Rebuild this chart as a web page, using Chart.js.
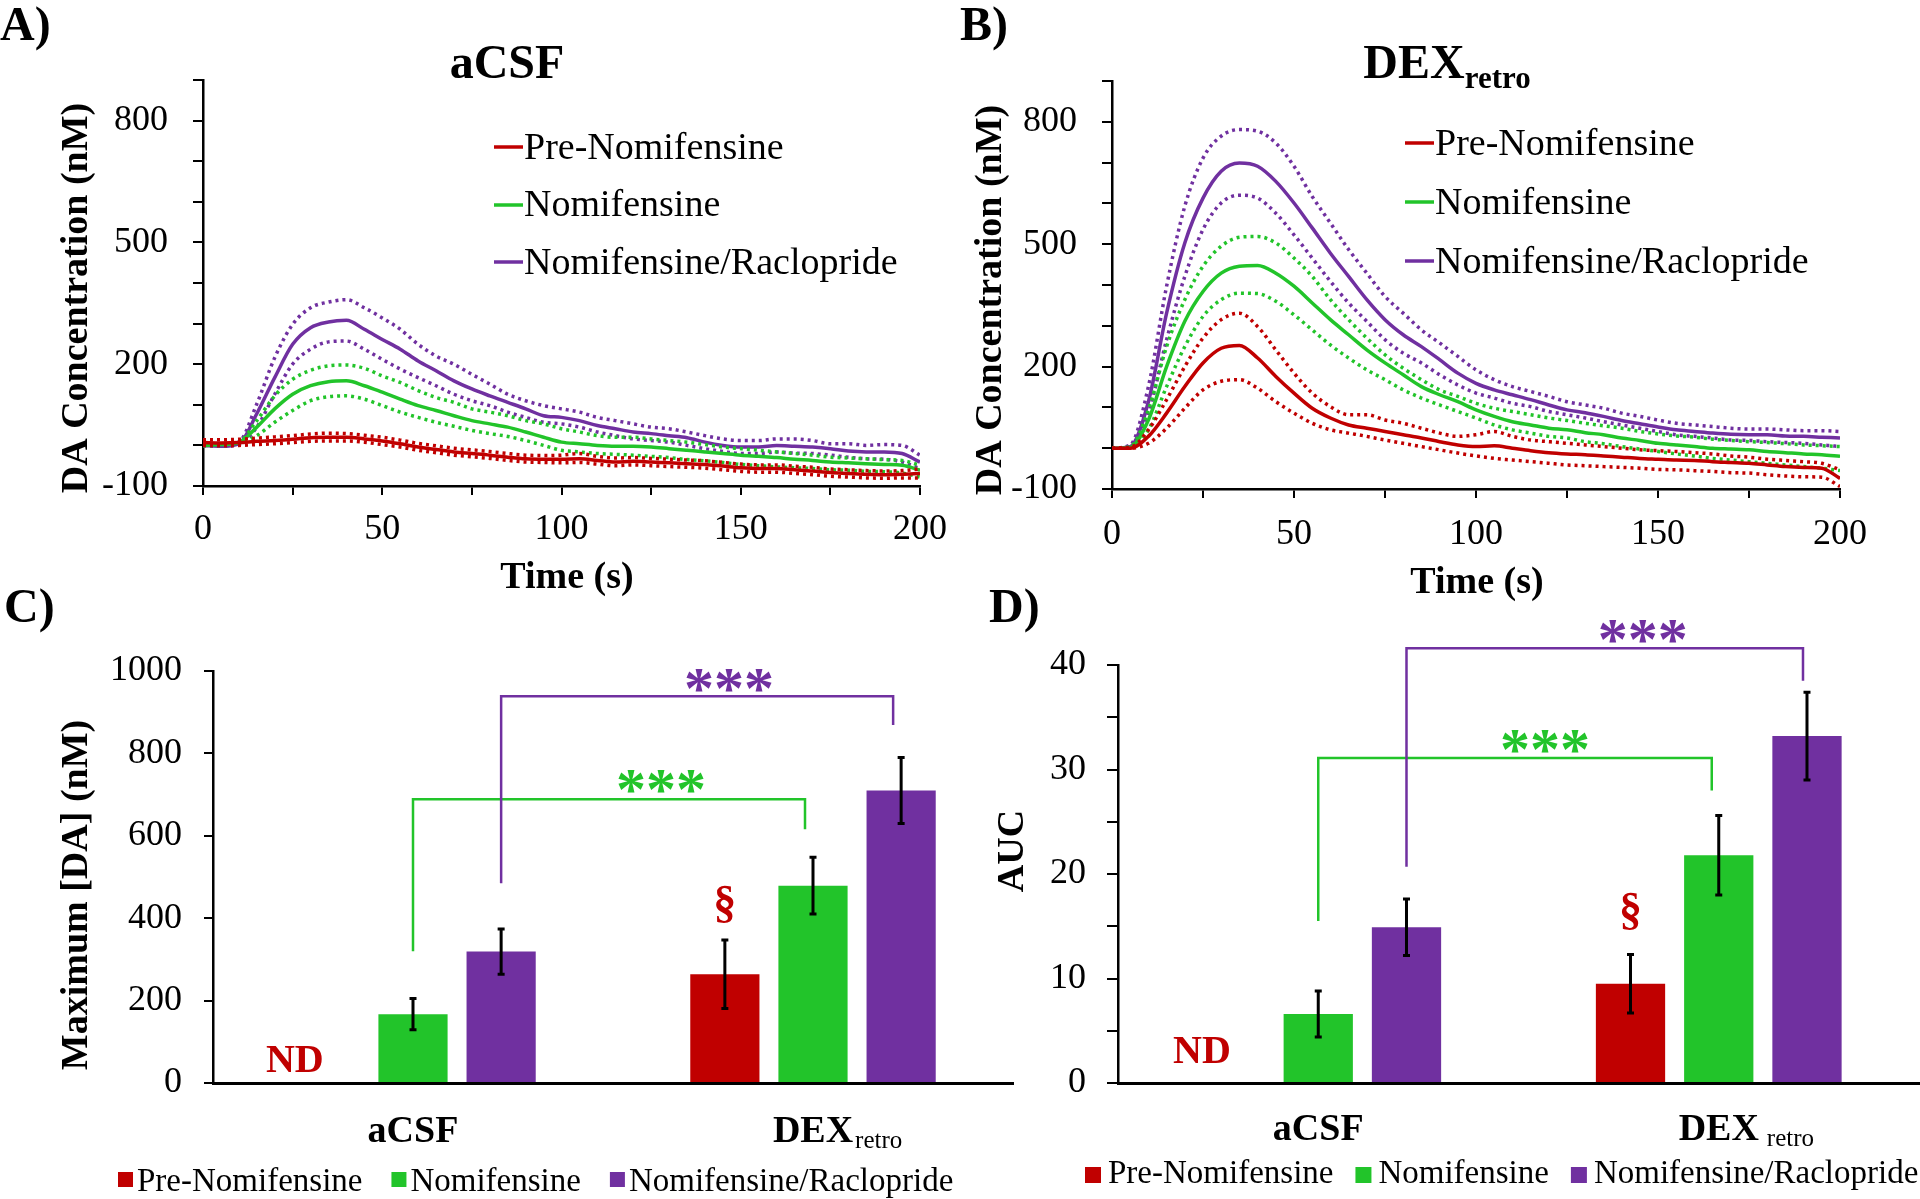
<!DOCTYPE html>
<html>
<head>
<meta charset="utf-8">
<script src="https://cdn.jsdelivr.net/npm/chart.js@4.4.1/dist/chart.umd.min.js"></script>
<style>
html, body { margin: 0; padding: 0; background: #fff; }
#wrap { position: relative; width: 1920px; height: 1199px; overflow: hidden; background: #fff; }
canvas { position: absolute; }
</style>
</head>
<body>
<div id="wrap">
  <canvas id="chartA" width="960" height="600" style="left:0;top:0;width:960px;height:600px"></canvas>
  <canvas id="chartB" width="960" height="610" style="left:960px;top:0;width:960px;height:610px"></canvas>
  <canvas id="chartC" width="1030" height="639" style="left:0;top:560px;width:1030px;height:639px"></canvas>
  <canvas id="chartD" width="960" height="639" style="left:960px;top:560px;width:960px;height:639px"></canvas>
</div>
<script>
const FONT = '"Liberation Serif", "Times New Roman", Times, serif';
const RED = '#C00000', GREEN = '#22C42A', PURPLE = '#7030A0';

const seriesNames = ['Pre-Nomifensine', 'Nomifensine', 'Nomifensine/Raclopride'];

// time axis (s)
const timeSec = [0, 5, 10, 15, 20, 25, 30, 35, 40, 45, 50, 55, 60, 65, 70, 75, 80, 85, 90, 95,
  100, 105, 110, 115, 120, 125, 130, 135, 140, 145, 150, 155, 160, 165, 170, 175, 180, 185, 190, 195, 200];
const lineXLabels = [0, 50, 100, 150, 200];
const lineYLabels = [-100, 200, 500, 800];

// A) aCSF traces (nM)
const aPreMean = [7, 6, 7, 10, 12, 15, 19, 20, 20, 16, 11, 4, -4, -10, -16, -20, -24, -29, -33, -34,
  -34, -33, -37, -41, -39, -41, -43, -45, -47, -51, -55, -57, -57, -60, -63, -67, -69, -71, -72, -71, -69];
const aPreUpper = [14, 14, 15, 18, 21, 24, 28, 30, 29, 25, 20, 13, 5, -1, -7, -11, -15, -20, -24, -25,
  -24, -20, -27, -31, -30, -32, -34, -36, -38, -42, -46, -48, -48, -51, -54, -58, -60, -62, -63, -62, -58];
const aPreLower = [0, -1, 0, 2, 4, 7, 10, 11, 11, 8, 2, -4, -12, -18, -24, -28, -32, -37, -41, -42,
  -43, -42, -46, -50, -48, -50, -52, -54, -56, -60, -64, -66, -66, -69, -72, -76, -78, -80, -81, -80, -80];
const aNomMean = [0, 2, 7, 45, 90, 126, 147, 157, 159, 147, 131, 114, 98, 86, 73, 61, 53, 45, 33, 20,
  8, 4, 0, -2, -2, -4, -8, -12, -16, -20, -24, -27, -30, -34, -37, -41, -43, -45, -47, -49, -61];
const aNomUpper = [0, 2, 8, 61, 122, 163, 185, 196, 198, 190, 171, 155, 135, 118, 106, 90, 82, 73, 61, 53,
  41, 33, 24, 20, 20, 16, 12, 8, 2, -4, -8, -12, -16, -20, -24, -29, -31, -33, -35, -37, -49];
const aNomLower = [0, 0, 4, 24, 57, 86, 110, 120, 122, 114, 98, 82, 69, 57, 47, 37, 29, 22, 12, 0,
  -12, -16, -20, -22, -24, -27, -30, -35, -38, -42, -47, -50, -53, -55, -57, -60, -61, -64, -65, -68, -78];
const aRacMean = [0, -2, 4, 78, 167, 249, 290, 304, 308, 286, 261, 237, 208, 184, 159, 139, 122, 106, 90, 73,
  69, 61, 49, 41, 33, 29, 24, 19, 8, 0, -4, -4, 0, -2, -4, -8, -14, -16, -16, -20, -41];
const aRacUpper = [0, 0, 8, 102, 216, 298, 339, 353, 359, 339, 314, 286, 249, 220, 200, 175, 151, 126, 110, 98,
  90, 82, 69, 61, 53, 45, 41, 33, 24, 16, 12, 12, 16, 16, 12, 4, 4, 0, 2, 0, -24];
const aRacLower = [0, -2, 2, 45, 126, 200, 237, 255, 257, 237, 212, 188, 167, 147, 126, 110, 98, 82, 69, 57,
  53, 45, 33, 24, 16, 12, 8, 0, -8, -15, -20, -20, -16, -19, -20, -24, -29, -33, -34, -41, -57];

// B) DEXretro traces (nM)
const bPreMean = [0, 0, 29, 86, 151, 209, 245, 252, 221, 176, 135, 98, 74, 57, 49, 41, 33, 25, 16, 8,
  4, 6, 0, -6, -11, -14, -16, -19, -22, -25, -27, -29, -30, -33, -35, -37, -41, -45, -47, -49, -74];
const bPreUpper = [0, 2, 45, 119, 200, 270, 315, 331, 298, 241, 184, 135, 102, 82, 82, 69, 61, 49, 37, 29,
  33, 41, 29, 20, 16, 12, 8, 4, 0, -4, -6, -8, -11, -14, -19, -22, -27, -30, -33, -37, -53];
const bPreLower = [0, 0, 12, 49, 98, 143, 164, 168, 147, 114, 86, 61, 45, 37, 29, 20, 12, 4, -4, -12,
  -19, -25, -29, -33, -37, -41, -43, -45, -47, -49, -52, -53, -55, -57, -60, -61, -65, -68, -70, -71, -94];
const bNomMean = [0, 2, 69, 200, 311, 384, 429, 446, 448, 429, 397, 356, 315, 278, 241, 209, 180, 151, 131, 114,
  94, 78, 65, 57, 49, 45, 38, 33, 25, 19, 12, 8, 4, 0, -2, -4, -8, -11, -14, -16, -20];
const bNomUpper = [0, 4, 94, 249, 364, 446, 495, 517, 519, 503, 466, 421, 364, 315, 270, 229, 196, 168, 143, 127,
  110, 98, 90, 82, 74, 68, 61, 55, 49, 41, 35, 30, 27, 22, 19, 16, 14, 11, 8, 6, 4];
const bNomLower = [0, 0, 45, 151, 249, 323, 364, 380, 379, 360, 327, 290, 253, 221, 192, 168, 143, 123, 106, 90,
  74, 57, 45, 37, 29, 25, 16, 11, 4, -2, -8, -14, -19, -25, -29, -33, -37, -41, -45, -49, -55];
const bRacMean = [0, 4, 114, 331, 503, 613, 679, 699, 691, 654, 601, 540, 478, 421, 364, 315, 278, 249, 217, 184,
  159, 143, 131, 119, 106, 94, 87, 78, 68, 60, 52, 45, 41, 37, 34, 33, 33, 30, 29, 27, 25];
const bRacUpper = [0, 8, 151, 397, 593, 711, 765, 781, 777, 748, 691, 617, 552, 487, 429, 372, 331, 290, 258, 225,
  192, 168, 151, 139, 127, 114, 106, 98, 86, 78, 69, 61, 57, 53, 49, 47, 47, 45, 43, 43, 41];
const bRacLower = [0, 2, 86, 266, 421, 536, 601, 620, 613, 576, 523, 466, 409, 356, 311, 266, 233, 209, 180, 155,
  135, 123, 110, 102, 90, 82, 74, 65, 57, 49, 41, 33, 29, 25, 20, 19, 16, 14, 12, 8, 4];

// C) maximum [DA] (nM), D) AUC
const groupLabels = ['aCSF', 'DEX'];
const maxPre = [null, 264], maxNom = [167, 479], maxRac = [319, 710];
const maxPreErr = [0, 83], maxNomErr = [38, 69], maxRacErr = [55, 80];
const aucPre = [null, 9.5], aucNom = [6.6, 21.8], aucRac = [14.9, 33.2];
const aucPreErr = [0, 2.8], aucNomErr = [2.2, 3.8], aucRacErr = [2.7, 4.2];
const maxYLabels = [0, 200, 400, 600, 800, 1000];
const aucYLabels = [0, 10, 20, 30, 40];

// significance brackets: [top, left foot, right foot, stars x (category units), stars y]
const maxSigNom = [689, 320, 616, 0.62, 733];
const maxSigRac = [939, 485, 869, 0.79, 978];
const aucSigNom = [31.1, 15.5, 28.0, 0.566, 32.7];
const aucSigRac = [41.6, 20.7, 38.5, 0.81, 43.2];

Chart.defaults.font.family = FONT;
Chart.defaults.color = '#000';

function text(ctx, s, x, y, font, color, align, baseline) {
  ctx.font = font;
  ctx.fillStyle = color || '#000';
  ctx.textAlign = align || 'left';
  ctx.textBaseline = baseline || 'alphabetic';
  ctx.fillText(s, x, y);
}

function vText(ctx, s, cx, cy, font) {
  ctx.save();
  ctx.translate(cx, cy);
  ctx.rotate(-Math.PI / 2);
  text(ctx, s, 0, 0, font, '#000', 'center', 'middle');
  ctx.restore();
}

// main text with a subscript, centred (or left aligned) on x
function subText(ctx, main, sub, x, base, mainFont, subFont, subDrop, gap, centred) {
  ctx.font = mainFont;
  const wm = ctx.measureText(main).width;
  ctx.font = subFont;
  const ws = ctx.measureText(sub).width;
  const x0 = centred ? x - (wm + gap + ws) / 2 : x;
  text(ctx, main, x0, base, mainFont);
  text(ctx, sub, x0 + wm + gap, base + subDrop, subFont);
}

function pts(vals) {
  return timeSec.map((t, i) => ({x: t, y: vals[i]}));
}

function band(color, mean, upper, lower) {
  const dotted = v => ({data: pts(v), borderColor: color, borderWidth: 3.5, borderDash: [3, 4],
    pointRadius: 0, cubicInterpolationMode: 'monotone'});
  return [dotted(upper), dotted(lower),
    {data: pts(mean), borderColor: color, borderWidth: 3.5, pointRadius: 0, cubicInterpolationMode: 'monotone'}];
}

function lineScales(yWidth, xHeight, xPad) {
  return {
    x: {
      type: 'linear', min: 0, max: 200,
      afterFit: s => { s.height = xHeight; },
      ticks: {stepSize: 25, autoSkip: false, maxRotation: 0, padding: xPad, color: '#000', font: {size: 36},
        callback: v => lineXLabels.includes(v) ? v : ''},
      grid: {drawOnChartArea: false, drawTicks: true, tickLength: 9, color: '#000', lineWidth: 2},
      border: {color: '#000', width: 2.5}
    },
    y: {
      type: 'linear', min: -100, max: 900,
      afterFit: s => { s.width = yWidth; },
      ticks: {stepSize: 100, autoSkip: false, padding: 25, color: '#000', font: {size: 36},
        callback: v => lineYLabels.includes(v) ? v : ''},
      grid: {drawOnChartArea: false, drawTicks: true, tickLength: 10, color: '#000', lineWidth: 2},
      border: {color: '#000', width: 2.5}
    }
  };
}

function linePlugin(cfg) {
  return {
    id: 'lineText',
    afterDraw(chart) {
      const ctx = chart.ctx;
      ctx.save();
      text(ctx, cfg.letter, 0, 40, 'bold 48px ' + FONT);
      subText(ctx, cfg.title, cfg.titleSub, cfg.titleX, 78, 'bold 48px ' + FONT, 'bold 31px ' + FONT, 10, 0, true);
      text(ctx, 'Time (s)', cfg.xTitle[0], cfg.xTitle[1], 'bold 38px ' + FONT, '#000', 'center', 'middle');
      vText(ctx, 'DA Concentration (nM)', cfg.yTitle[0], cfg.yTitle[1], 'bold 38px ' + FONT);
      const colors = [RED, GREEN, PURPLE];
      seriesNames.forEach((name, i) => {
        ctx.strokeStyle = colors[i];
        ctx.lineWidth = 3.5;
        ctx.setLineDash([]);
        ctx.beginPath();
        ctx.moveTo(cfg.legX, cfg.legSwatch[i]);
        ctx.lineTo(cfg.legX + 29, cfg.legSwatch[i]);
        ctx.stroke();
        text(ctx, name, cfg.legX + 30, cfg.legBase[i], '38px ' + FONT);
      });
      ctx.restore();
    }
  };
}

function makeLine(id, sets, layoutPad, yWidth, xHeight, xPad, cfg) {
  return new Chart(document.getElementById(id), {
    type: 'line',
    data: {datasets: sets},
    options: {
      responsive: false, animation: false,
      layout: {padding: layoutPad},
      plugins: {legend: {display: false}, tooltip: {enabled: false}},
      scales: lineScales(yWidth, xHeight, xPad)
    },
    plugins: [linePlugin(cfg)]
  });
}

makeLine('chartA',
  [].concat(band(RED, aPreMean, aPreUpper, aPreLower), band(GREEN, aNomMean, aNomUpper, aNomLower),
    band(PURPLE, aRacMean, aRacUpper, aRacLower)),
  {left: 0, right: 29, top: 80, bottom: 0}, 203, 114, 13,
  {letter: 'A)', title: 'aCSF', titleSub: '', titleX: 507, xTitle: [567, 578], yTitle: [77, 298],
    legX: 494, legSwatch: [147, 205, 262], legBase: [159, 216, 274]});

makeLine('chartB',
  [].concat(band(RED, bPreMean, bPreUpper, bPreLower), band(GREEN, bNomMean, bNomUpper, bNomLower),
    band(PURPLE, bRacMean, bRacUpper, bRacLower)),
  {left: 0, right: 80, top: 81, bottom: 0}, 152, 121, 15,
  {letter: 'B)', title: 'DEX', titleSub: 'retro', titleX: 487, xTitle: [517, 583], yTitle: [31, 300],
    legX: 445, legSwatch: [143, 202, 261], legBase: [155, 214, 273]});

function stars(ctx, cx, cy, color) {
  ctx.font = 'bold 60px ' + FONT;
  const m = ctx.measureText('***');
  const base = cy + (m.actualBoundingBoxAscent - m.actualBoundingBoxDescent) / 2;
  text(ctx, '***', cx, base, 'bold 60px ' + FONT, color, 'center');
}

function barPlugin(cfg) {
  return {
    id: 'barText',
    afterDraw(chart) {
      const ctx = chart.ctx;
      const xs = chart.scales.x, ys = chart.scales.y;
      ctx.save();
      // error bars
      cfg.errs.forEach((errs, di) => {
        const meta = chart.getDatasetMeta(di);
        const vals = chart.data.datasets[di].data;
        meta.data.forEach((bar, j) => {
          if (vals[j] == null) return;
          const top = ys.getPixelForValue(vals[j] + errs[j]);
          const bot = ys.getPixelForValue(vals[j] - errs[j]);
          ctx.strokeStyle = '#000';
          ctx.lineWidth = 3;
          ctx.beginPath();
          ctx.moveTo(bar.x, top); ctx.lineTo(bar.x, bot);
          ctx.moveTo(bar.x - 3.5, top); ctx.lineTo(bar.x + 3.5, top);
          ctx.moveTo(bar.x - 3.5, bot); ctx.lineTo(bar.x + 3.5, bot);
          ctx.stroke();
        });
      });
      // brackets and stars
      cfg.sigs.forEach(([sig, di, color]) => {
        const meta = chart.getDatasetMeta(di);
        const xl = meta.data[0].x, xr = meta.data[1].x + cfg.rightShift[di];
        ctx.strokeStyle = color;
        ctx.lineWidth = 2.5;
        ctx.beginPath();
        ctx.moveTo(xl, ys.getPixelForValue(sig[1]));
        ctx.lineTo(xl, ys.getPixelForValue(sig[0]));
        ctx.lineTo(xr, ys.getPixelForValue(sig[0]));
        ctx.lineTo(xr, ys.getPixelForValue(sig[2]));
        ctx.stroke();
        stars(ctx, xs.getPixelForValue(sig[3]), ys.getPixelForValue(sig[4]), color);
      });
      // ND and section mark on the pre-nomifensine series
      const pre = chart.getDatasetMeta(0);
      text(ctx, 'ND', pre.data[0].x + cfg.ndDx, ys.getPixelForValue(cfg.ndY), 'bold 40px ' + FONT, RED, 'center', 'middle');
      text(ctx, '§', pre.data[1].x, ys.getPixelForValue(cfg.secY), 'bold 46px ' + FONT, RED, 'center', 'middle');
      // category labels
      text(ctx, groupLabels[0], xs.getPixelForValue(0), cfg.catBase, 'bold 38px ' + FONT, '#000', 'center');
      ctx.font = 'bold 38px ' + FONT;
      const wDex = ctx.measureText(groupLabels[1]).width;
      const xDex = xs.getPixelForValue(1) - wDex / 2;
      text(ctx, groupLabels[1], xDex, cfg.catBase, 'bold 38px ' + FONT);
      text(ctx, 'retro', xDex + wDex + cfg.subGap, cfg.catBase + 6, '25px ' + FONT);
      // panel letter and y title
      text(ctx, cfg.letter, cfg.letterX, 62, 'bold 48px ' + FONT);
      vText(ctx, cfg.yTitle, cfg.yTitlePos[0], cfg.yTitlePos[1], 'bold 38px ' + FONT);
      // legend
      let lx = cfg.legX;
      const colors = [RED, GREEN, PURPLE];
      seriesNames.forEach((name, i) => {
        ctx.fillStyle = colors[i];
        ctx.fillRect(lx, cfg.legBox, cfg.box, cfg.box);
        lx += cfg.box + cfg.boxGap;
        text(ctx, name, lx, cfg.legBase, '33px ' + FONT);
        ctx.font = '33px ' + FONT;
        lx += ctx.measureText(name).width + cfg.itemGap;
      });
      ctx.restore();
    }
  };
}

function makeBar(id, pre, nom, rac, yMax, yStep, yLabels, layoutPad, yWidth, tickLen, tickPad, cfg) {
  const common = {barPercentage: 0.785, categoryPercentage: 0.661};
  return new Chart(document.getElementById(id), {
    type: 'bar',
    data: {
      labels: groupLabels,
      datasets: [
        Object.assign({label: seriesNames[0], data: pre, backgroundColor: RED}, common),
        Object.assign({label: seriesNames[1], data: nom, backgroundColor: GREEN}, common),
        Object.assign({label: seriesNames[2], data: rac, backgroundColor: PURPLE}, common)
      ]
    },
    options: {
      responsive: false, animation: false,
      layout: {padding: layoutPad},
      plugins: {legend: {display: false}, tooltip: {enabled: false}},
      scales: {
        x: {
          afterFit: s => { s.height = 116; },
          ticks: {display: false},
          grid: {display: true, drawOnChartArea: false, drawTicks: false},
          border: {color: '#000', width: 3}
        },
        y: {
          min: 0, max: yMax,
          afterFit: s => { s.width = yWidth; },
          ticks: {stepSize: yStep, autoSkip: false, padding: tickPad, color: '#000', font: {size: 36},
            callback: v => yLabels.includes(v) ? v : ''},
          grid: {drawOnChartArea: false, drawTicks: true, tickLength: tickLen, color: '#000', lineWidth: 2},
          border: {color: '#000', width: 2.5}
        }
      }
    },
    plugins: [barPlugin(cfg)]
  });
}

makeBar('chartC', maxPre, maxNom, maxRac, 1000, 200, maxYLabels,
  {left: 0, right: 17, top: 111, bottom: 0}, 213, 9, 22,
  {errs: [maxPreErr, maxNomErr, maxRacErr],
    sigs: [[maxSigNom, 1, GREEN], [maxSigRac, 2, PURPLE]], rightShift: [0, -8, -8],
    ndDx: -30, ndY: 51, secY: 432, catBase: 582, subGap: 2,
    letter: 'C)', letterX: 4, yTitle: 'Maximum [DA] (nM)', yTitlePos: [77, 335],
    legX: 118, legBox: 612, legBase: 631, box: 15, boxGap: 4, itemGap: 29});

makeBar('chartD', aucPre, aucNom, aucRac, 40, 5, aucYLabels,
  {left: 0, right: 1, top: 105, bottom: 0}, 158, 11, 21,
  {errs: [aucPreErr, aucNomErr, aucRacErr],
    sigs: [[aucSigNom, 1, GREEN], [aucSigRac, 2, PURPLE]], rightShift: [0, -7, -4],
    ndDx: -28, ndY: 2.9, secY: 16.4, catBase: 580, subGap: 8,
    letter: 'D)', letterX: 29, yTitle: 'AUC', yTitlePos: [53, 291],
    legX: 125, legBox: 607, legBase: 623, box: 16, boxGap: 7, itemGap: 22});
</script>
</body>
</html>
